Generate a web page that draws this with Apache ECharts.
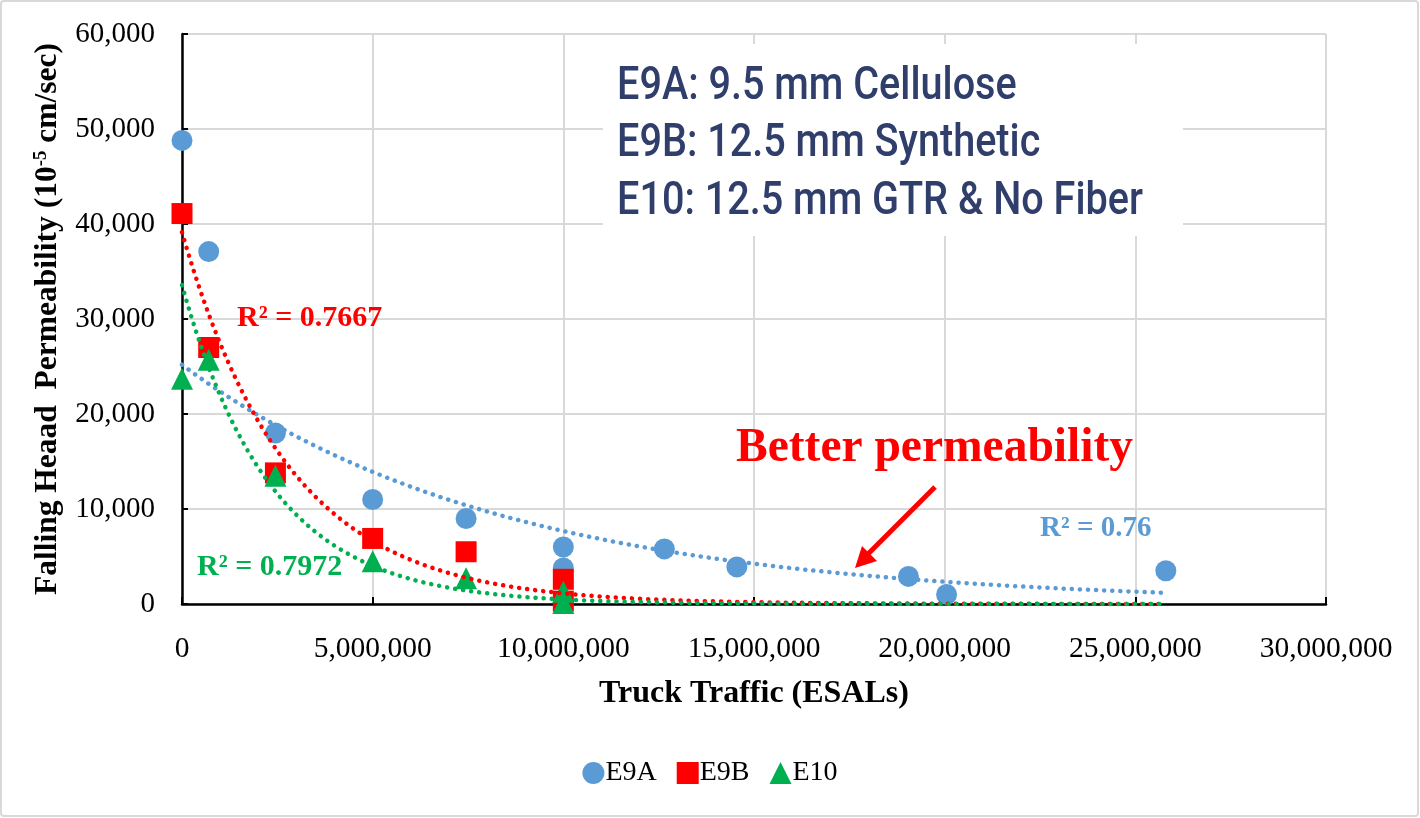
<!DOCTYPE html>
<html>
<head>
<meta charset="utf-8">
<script src="https://cdn.jsdelivr.net/npm/echarts@6/dist/echarts.min.js"></script>
<style>
  html, body { margin: 0; padding: 0; background: #fff; }
  #chart { width: 1420px; height: 818px; }
</style>
</head>
<body>
<div id="chart"></div>
<script>
// Falling head permeability vs. accumulated truck traffic for three mixes
const seriesNames = ['E9A', 'E9B', 'E10'];

const e9aTraffic = [0, 700000, 2450000, 5000000, 7450000, 10000000, 10000000, 12650000, 14550000, 19050000, 20050000, 25800000];
const e9aPerm    = [48800, 37100, 18000, 11000, 9000, 6000, 3800, 5800, 3900, 2900, 1000, 3500];

const e9bTraffic = [0, 700000, 2450000, 5000000, 7450000, 10000000, 10000000];
const e9bPerm    = [41100, 27000, 13800, 6900, 5500, 2600, 300];

const e10Traffic = [0, 700000, 2450000, 5000000, 7450000, 10000000, 10000000];
const e10Perm    = [23700, 25700, 13500, 4500, 2700, 1300, 100];

const r2Labels = ['R² = 0.76', 'R² = 0.7667', 'R² = 0.7972'];
const mixNotes = ['E9A: 9.5 mm Cellulose', 'E9B: 12.5 mm Synthetic', 'E10: 12.5 mm GTR & No Fiber'];
const calloutText = 'Better permeability';

const colors = ['#5B9BD5', '#FF0000', '#00B050'];
const symbols = ['circle', 'rect', 'triangle'];
const serif = "'Liberation Serif', 'Times New Roman', serif";
const noteFont = "500 46px Roboto, 'Liberation Sans', sans-serif";

// Least-squares exponential trend y = a * exp(b x), fitted on ln(y)
function expFit(xs, ys) {
  const n = xs.length;
  const ls = ys.map(Math.log);
  let mx = 0, ml = 0;
  for (let i = 0; i < n; i++) { mx += xs[i]; ml += ls[i]; }
  mx /= n; ml /= n;
  let sxy = 0, sxx = 0;
  for (let i = 0; i < n; i++) {
    sxy += (xs[i] - mx) * (ls[i] - ml);
    sxx += (xs[i] - mx) * (xs[i] - mx);
  }
  const b = sxy / sxx;
  return { a: Math.exp(ml - b * mx), b: b };
}

const allTraffic = e9aTraffic.concat(e9bTraffic, e10Traffic);
const trendEnd = Math.max.apply(null, allTraffic);

function trendCurve(xs, ys) {
  const f = expFit(xs, ys);
  const pts = [];
  const steps = 240;
  for (let i = 0; i <= steps; i++) {
    const x = trendEnd * i / steps;
    pts.push([x, f.a * Math.exp(f.b * x)]);
  }
  return pts;
}

const groups = [
  [e9aTraffic, e9aPerm],
  [e9bTraffic, e9bPerm],
  [e10Traffic, e10Perm]
];

const series = [];
groups.forEach(function (g, k) {
  series.push({
    name: seriesNames[k],
    type: 'scatter',
    symbol: symbols[k],
    symbolSize: k === 2 ? 22 : 21,
    itemStyle: { color: colors[k], opacity: 1 },
    data: g[0].map(function (x, i) { return [x, g[1][i]]; }),
    z: 2
  });
});
groups.forEach(function (g, k) {
  series.push({
    name: seriesNames[k] + ' trend',
    type: 'line',
    showSymbol: false,
    silent: true,
    lineStyle: { color: colors[k], width: 4.5, type: [0.1, 8], cap: 'round' },
    data: trendCurve(g[0], g[1]),
    z: 3
  });
});

const fmt = function (v) { return Math.round(v).toLocaleString('en-US'); };

// condensed look for the mix notes: squeeze the text box horizontally
const measureCtx = document.createElement('canvas').getContext('2d');
measureCtx.font = noteFont;
const noteSqueeze = 526 / measureCtx.measureText(mixNotes[2]).width;

const noteTexts = mixNotes.map(function (t, i) {
  return {
    type: 'text', z: 10, x: 617, y: 87 + i * 57.5, scaleX: noteSqueeze,
    style: { text: t, font: noteFont, fill: '#2F3E6B', verticalAlign: 'middle' }
  };
});

const chart = echarts.init(document.getElementById('chart'));
chart.setOption({
  animation: false,
  backgroundColor: '#fff',
  color: colors,
  grid: { left: 182, right: 94, top: 34, bottom: 214, containLabel: false },
  legend: {
    data: seriesNames,
    bottom: 26,
    left: 'center',
    itemWidth: 22,
    itemHeight: 22,
    itemGap: 20,
    textStyle: { fontFamily: serif, fontSize: 28, color: '#000', padding: [0, 0, 0, -4] }
  },
  xAxis: {
    type: 'value',
    min: 0, max: 30000000, interval: 5000000,
    name: 'Truck Traffic (ESALs)',
    nameLocation: 'middle',
    nameGap: 74,
    nameTextStyle: { fontFamily: serif, fontSize: 32, fontWeight: 'bold', color: '#000' },
    axisLine: { lineStyle: { color: '#000', width: 2.5 } },
    axisTick: { inside: true, length: 7, lineStyle: { color: '#000', width: 2 } },
    axisLabel: { fontFamily: serif, fontSize: 29.5, color: '#000', margin: 30, formatter: fmt },
    splitLine: { show: true, lineStyle: { color: '#d9d9d9', width: 2 } }
  },
  yAxis: {
    type: 'value',
    min: 0, max: 60000, interval: 10000,
    name: 'Falling Heaad  Permeability (10{sup|-5} cm/sec)',
    nameLocation: 'middle',
    nameGap: 111,
    nameTextStyle: {
      fontFamily: serif, fontSize: 31.5, fontWeight: 'bold', color: '#000',
      rich: { sup: { fontFamily: serif, fontSize: 19, fontWeight: 'bold', color: '#000', verticalAlign: 'top', padding: [0, 0, 14, 0] } }
    },
    axisLine: { show: true, lineStyle: { color: '#000', width: 2.5 } },
    axisTick: { show: true, inside: true, length: 6, lineStyle: { color: '#000', width: 2 } },
    axisLabel: { fontFamily: serif, fontSize: 29, color: '#000', margin: 27, formatter: fmt },
    splitLine: { show: true, lineStyle: { color: '#d9d9d9', width: 2 } }
  },
  series: series,
  graphic: [
    { type: 'rect', z: 100, silent: true,
      shape: { x: 1, y: 1, width: 1417, height: 815, r: 3 },
      style: { fill: 'none', stroke: '#d9d9d9', lineWidth: 2 } },
    { type: 'rect', z: 1, silent: true,
      shape: { x: 603, y: 44, width: 580, height: 192 },
      style: { fill: '#fff' } }
  ].concat(noteTexts, [
    { type: 'text', z: 10, left: 736, top: 425, style: { text: calloutText, font: 'bold 47.5px ' + serif, fill: '#FF0000' } },
    { type: 'text', z: 10, left: 1040, top: 514, style: { text: r2Labels[0], font: 'bold 29px ' + serif, fill: colors[0] } },
    { type: 'text', z: 10, left: 237, top: 303, style: { text: r2Labels[1], font: 'bold 30px ' + serif, fill: colors[1] } },
    { type: 'text', z: 10, left: 197, top: 552, style: { text: r2Labels[2], font: 'bold 30px ' + serif, fill: colors[2] } },
    { type: 'line', z: 10, silent: true,
      shape: { x1: 935, y1: 487, x2: 864, y2: 558 },
      style: { stroke: '#FF0000', lineWidth: 5 } },
    { type: 'polygon', z: 10, silent: true,
      shape: { points: [[855, 568], [877, 561], [862, 546]] },
      style: { fill: '#FF0000' } }
  ])
});
</script>
</body>
</html>
